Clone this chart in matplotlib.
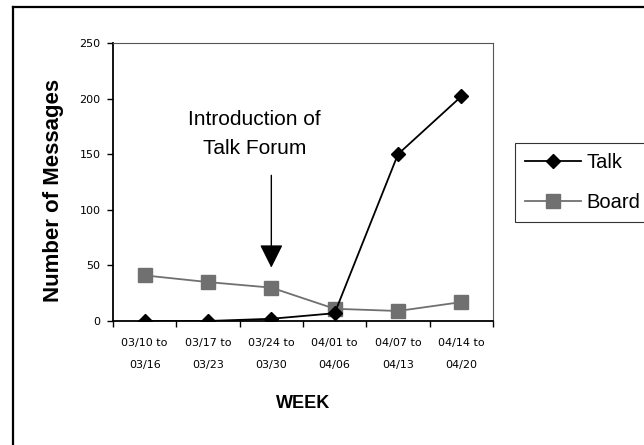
import matplotlib.pyplot as plt
from matplotlib.lines import Line2D

weeks = ["03/10 to\n03/16", "03/17 to\n03/23", "03/24 to\n03/30",
         "04/01 to\n04/06", "04/07 to\n04/13", "04/14 to\n04/20"]
talk = [0, 0, 2, 7, 150, 202]
board = [41, 35, 30, 11, 9, 17]
yticks = [0, 50, 100, 150, 200, 250]

W, H = 644, 445
fig = plt.figure(figsize=(W / 100, H / 100), dpi=100)
plt.rcParams['font.family'] = ['Liberation Sans', 'DejaVu Sans']

# outer chart border (only left and top visible)
fig.add_artist(Line2D([13 / W, 13 / W], [0, 1 - 7 / H], color='black', lw=1.6))
fig.add_artist(Line2D([13 / W, 1], [1 - 7 / H, 1 - 7 / H], color='black', lw=1.6))

ax = fig.add_axes([113 / W, 1 - 321 / H, (493 - 113) / W, (321 - 43) / H])
x = list(range(len(weeks)))

ax.plot(x, talk, color='black', lw=1.3, marker='D', ms=7,
        markerfacecolor='black', label='Talk', zorder=3)
ax.plot(x, board, color='#707070', lw=1.3, marker='s', ms=10,
        markerfacecolor='#707070', markeredgecolor='#707070', label='Board', zorder=2)

ax.set_xlim(-0.5, 5.5)
ax.set_ylim(0, 250)
ax.set_yticks(yticks)
ax.set_yticklabels([str(v) for v in yticks], family='Liberation Sans Narrow', fontsize=8)
ax.set_xticks(x)
ax.set_xticklabels(weeks, family='Liberation Sans Narrow', fontsize=8, linespacing=2.6)
ax.tick_params(axis='x', length=0, pad=12)
ax.set_xticks([i + 0.5 for i in range(-1, len(weeks))], minor=True)
ax.tick_params(axis='x', which='minor', length=4, direction='out', width=1)
ax.tick_params(axis='y', length=4, direction='out', width=1, pad=5)

for s in ['left', 'bottom']:
    ax.spines[s].set_linewidth(1.3)
for s in ['top', 'right']:
    ax.spines[s].set_linewidth(0.8)
    ax.spines[s].set_color('#555555')

ax.set_ylabel('Number of Messages', fontsize=16, fontweight='bold')
ax.yaxis.set_label_coords((64 - 113) / 380, (321 - 190) / 278)
ax.set_xlabel('WEEK', fontsize=13, fontweight='bold', labelpad=18)

ax.text(1.73, 168, "Introduction of\nTalk Forum", ha='center', va='center',
        fontsize=15, linespacing=1.65)
ax.annotate('', xy=(2, 48), xytext=(2, 131),
            arrowprops=dict(arrowstyle='-|>', color='black', lw=1,
                            mutation_scale=36, shrinkA=0, shrinkB=0))

leg = fig.legend(loc='upper left', bbox_to_anchor=(515 / W, 1 - 143 / H),
                 fontsize=14.5, frameon=True, fancybox=False, edgecolor='black',
                 handlelength=2.8, borderpad=0.5, labelspacing=1.05,
                 handletextpad=0.25, borderaxespad=0)
leg.get_frame().set_linewidth(0.8)

fig.savefig('out.png', dpi=100)
